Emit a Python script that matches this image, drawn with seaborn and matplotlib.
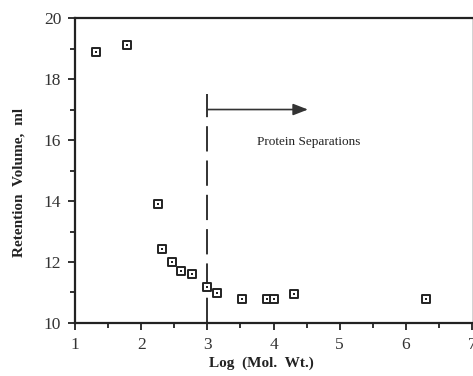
import numpy as np
import pandas as pd
import matplotlib
matplotlib.use("Agg")
import matplotlib.pyplot as plt
import seaborn as sns

# values
log_mw = [1.32, 1.78, 2.25, 2.31, 2.47, 2.60, 2.77, 3.00, 3.15, 3.52, 3.90, 4.00, 4.31, 6.31]
ret_vol = [18.88, 19.10, 13.90, 12.42, 12.00, 11.72, 11.62, 11.18, 10.98, 10.80, 10.80, 10.80, 10.96, 10.80]
x_ticks = [1, 2, 3, 4, 5, 6, 7]
y_ticks = [10, 12, 14, 16, 18, 20]
cutoff = 3.0

df = pd.DataFrame({"logmw": log_mw, "vol": ret_vol})

sns.set_style("ticks")
plt.rcParams["font.family"] = ["Liberation Serif", "DejaVu Serif"]

fig = plt.figure(figsize=(4.73, 3.76), dpi=100)
ax = fig.add_axes([0.1586, 0.141, 0.8394, 0.811])

sns.scatterplot(data=df, x="logmw", y="vol", ax=ax, marker="s", s=40,
                facecolor="white", edgecolor="#222222", linewidth=1.4, zorder=3)
sns.scatterplot(data=df, x="logmw", y="vol", ax=ax, marker="s", s=3,
                color="#222222", linewidth=0, zorder=4)

# protein separation cutoff
ax.plot([cutoff, cutoff], [10, 17.5], color="#222222", lw=1.3,
        dashes=(14, 5), zorder=2)
ax.annotate("", xy=(4.52, 17.0), xytext=(cutoff, 17.0),
            arrowprops=dict(arrowstyle="-|>,head_length=0.9,head_width=0.35",
                            color="#333333", lw=1.2, shrinkA=0, shrinkB=0))
ax.text(4.53, 15.95, "Protein Separations", ha="center", va="center",
        fontsize=9.5, color="#222222")

ax.set_xlim(1, 7)
ax.set_ylim(10, 20)
ax.set_xticks(x_ticks)
ax.set_yticks(y_ticks)
ax.set_xticks(np.arange(1.5, 7, 1), minor=True)
ax.set_yticks(np.arange(11, 20, 2), minor=True)
ax.tick_params(which="both", direction="out", width=1.3, color="#222222",
               labelsize=12.5, labelcolor="#333333", pad=5)
ax.tick_params(which="major", length=5)
ax.tick_params(which="minor", length=3.5)

for side in ["left", "bottom", "top"]:
    ax.spines[side].set_linewidth(1.6)
    ax.spines[side].set_color("#222222")
ax.spines["right"].set_linewidth(0.6)
ax.spines["right"].set_color("#cccccc")

ax.set_xlabel("Log  (Mol.  Wt.)", fontsize=11, fontweight="bold",
              color="#222222")
ax.set_ylabel("Retention  Volume,  ml", fontsize=11, fontweight="bold",
              color="#222222")
ax.xaxis.set_label_coords(0.47, -0.11)
ax.yaxis.set_label_coords(-0.125, 0.46)

fig.savefig("out.png", dpi=100)
